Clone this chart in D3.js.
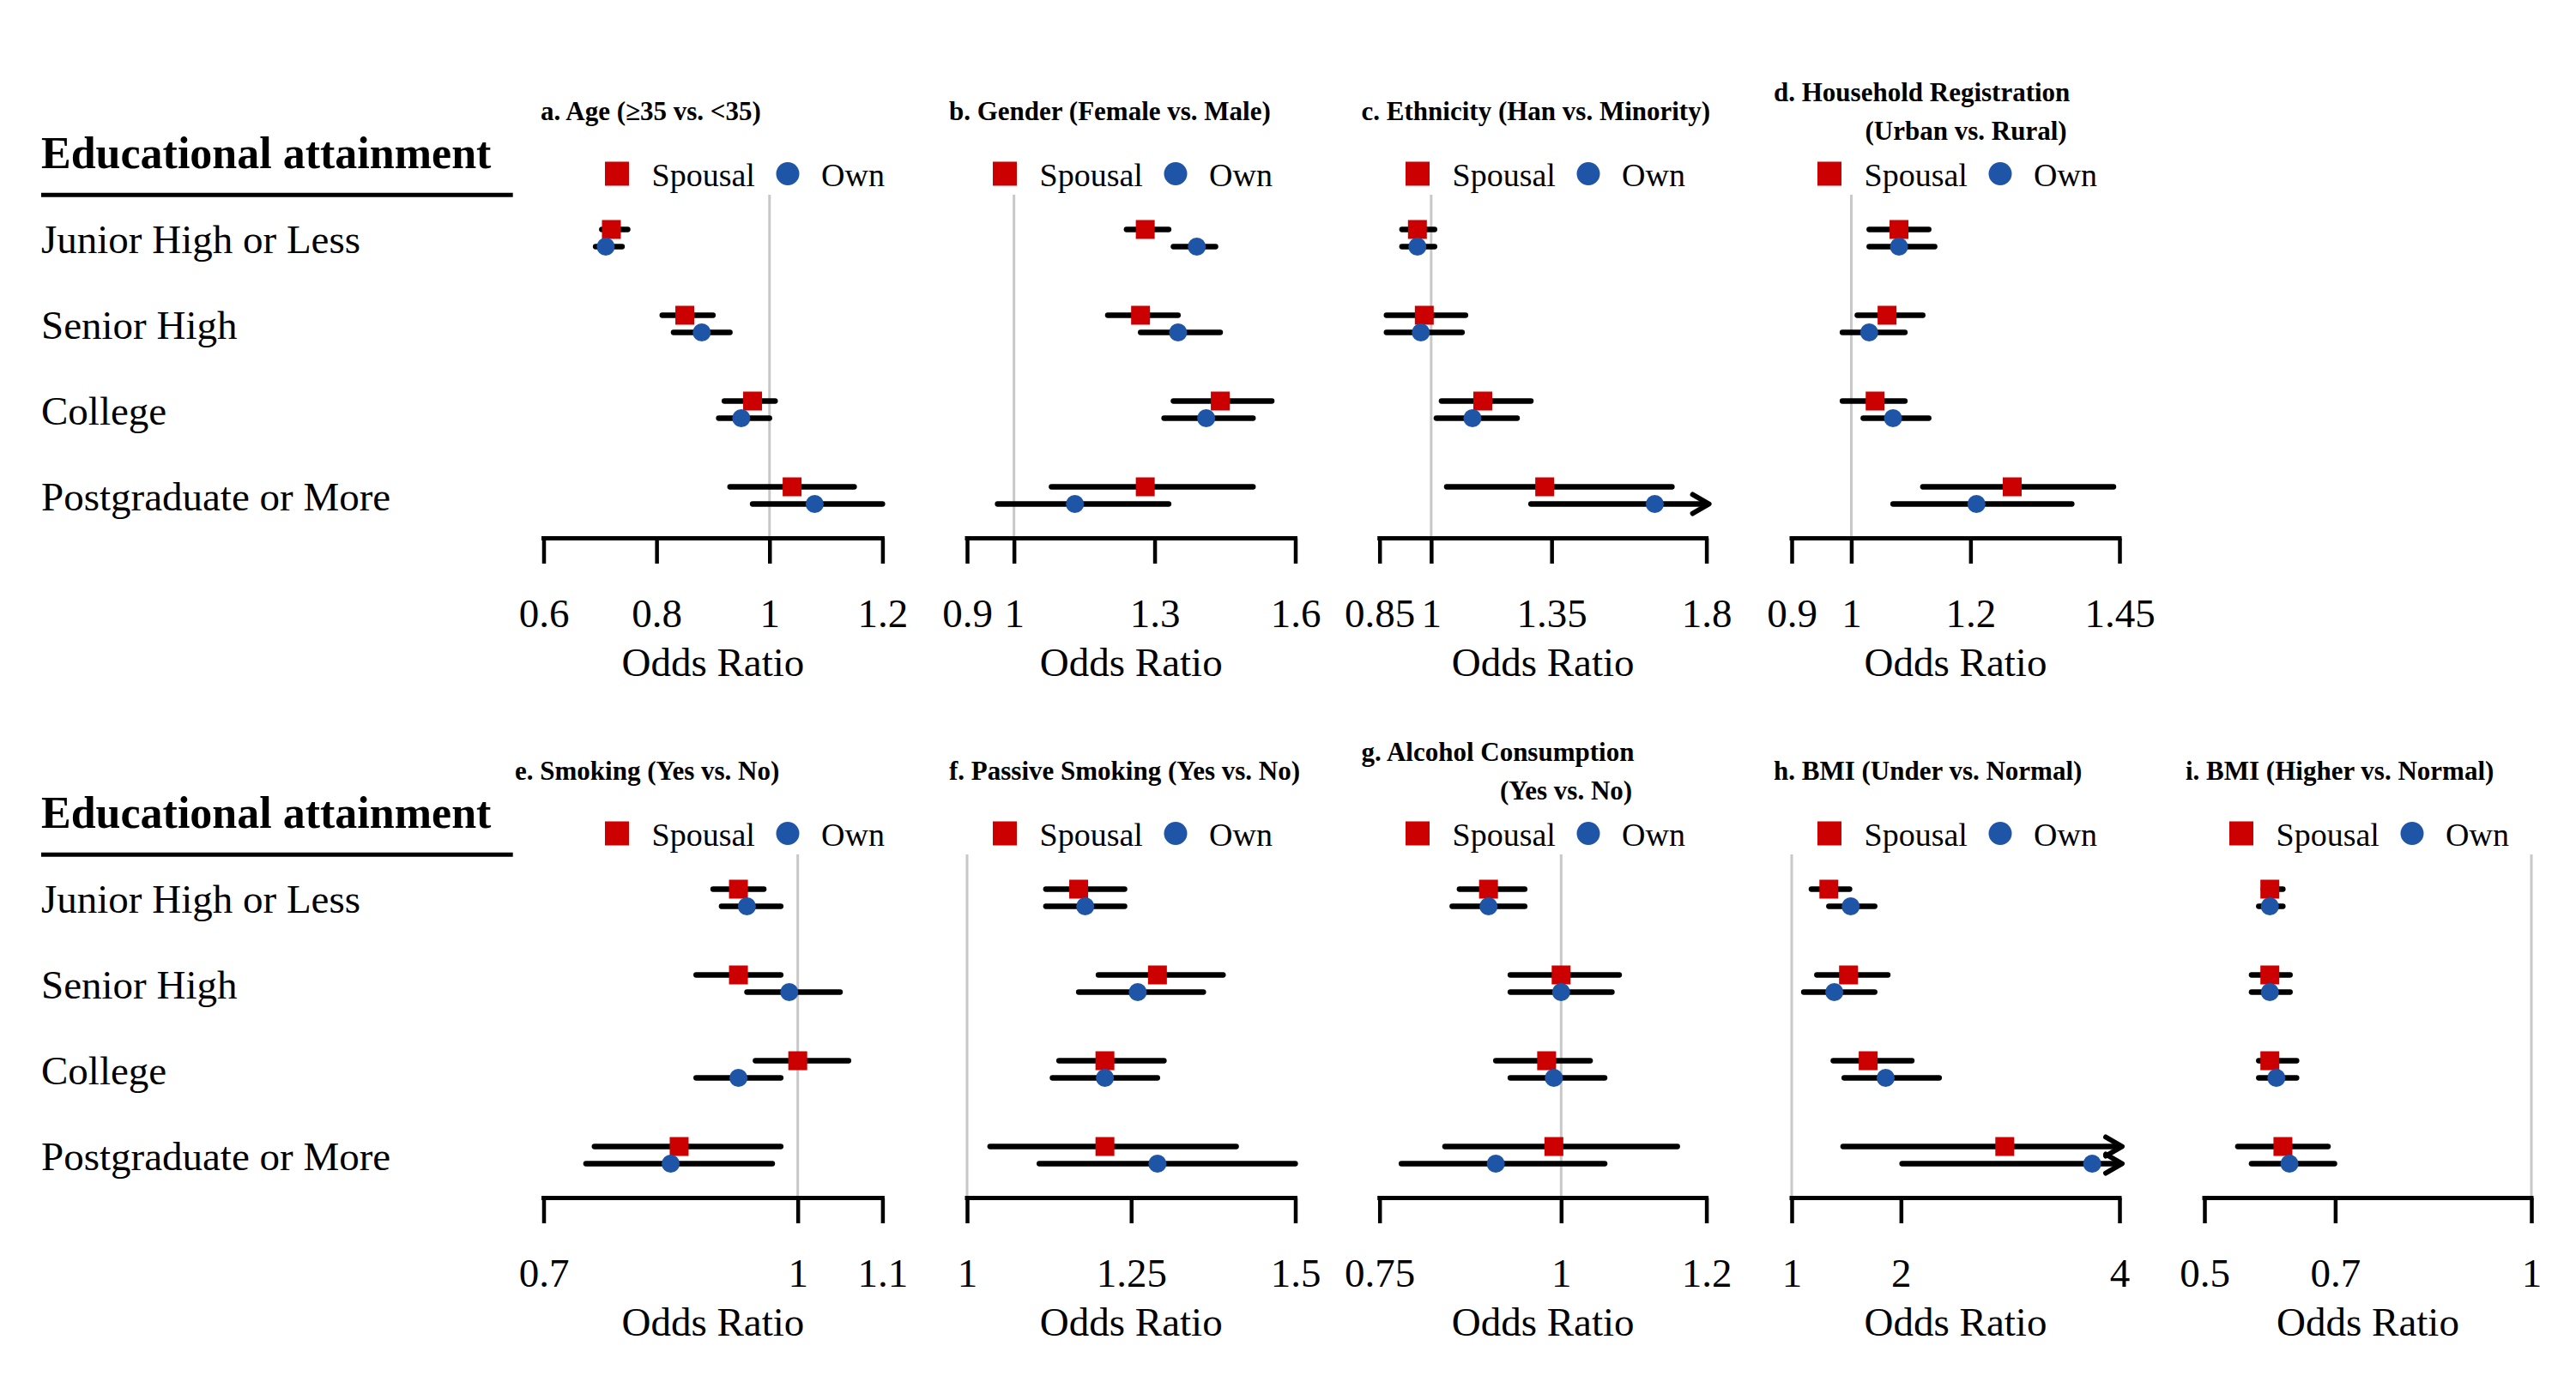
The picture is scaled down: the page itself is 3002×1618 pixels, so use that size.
<!DOCTYPE html>
<html>
<head>
<meta charset="utf-8">
<script src="https://cdn.jsdelivr.net/npm/d3@7"></script>
<style>
  body { margin: 0; background: #fff; }
  text { font-family: "Liberation Serif", "Times New Roman", serif; fill: #000; }
</style>
</head>
<body>
<script>
// education levels (rows)
const categories = ["Junior High or Less", "Senior High", "College", "Postgraduate or More"];

// panel titles (second line where the original wraps)
const titles = [
  ["a. Age (\u226535 vs. <35)"],
  ["b. Gender (Female vs. Male)"],
  ["c. Ethnicity (Han vs. Minority)"],
  ["d. Household Registration", "(Urban vs. Rural)"],
  ["e. Smoking (Yes vs. No)"],
  ["f. Passive Smoking (Yes vs. No)"],
  ["g. Alcohol Consumption", "(Yes vs. No)"],
  ["h. BMI (Under vs. Normal)"],
  ["i. BMI (Higher vs. Normal)"]
];

// axis ranges and tick labels
const domains = [[0.6, 1.2], [0.9, 1.6], [0.85, 1.8], [0.9, 1.45], [0.7, 1.1], [1, 1.5], [0.75, 1.2], [1, 4], [0.5, 1]];
const tickValues = [
  [0.6, 0.8, 1, 1.2], [0.9, 1, 1.3, 1.6], [0.85, 1, 1.35, 1.8], [0.9, 1, 1.2, 1.45],
  [0.7, 1, 1.1], [1, 1.25, 1.5], [0.75, 1, 1.2], [1, 2, 4], [0.5, 0.7, 1]
];

// spousal education: odds ratio and 95% CI (null = beyond axis, drawn as arrow)
const spousalOR = [
  [0.72, 0.85, 0.97, 1.04], [1.28, 1.27, 1.44, 1.28], [0.96, 0.98, 1.15, 1.33], [1.08, 1.06, 1.04, 1.27],
  [0.93, 0.93, 1.00, 0.86], [1.17, 1.29, 1.21, 1.21], [0.90, 1.00, 0.98, 0.99], [1.34, 1.52, 1.70, 2.95],
  [0.60, 0.60, 0.60, 0.62]
];
const spousalLo = [
  [0.703, 0.81, 0.92, 0.93], [1.24, 1.20, 1.34, 1.08], [0.915, 0.87, 1.03, 1.045], [1.03, 1.01, 0.985, 1.12],
  [0.90, 0.88, 0.95, 0.76], [1.12, 1.20, 1.14, 1.035], [0.86, 0.93, 0.91, 0.84], [1.18, 1.23, 1.38, 1.47],
  [0.59, 0.572, 0.583, 0.551]
];
const spousalHi = [
  [0.749, 0.90, 1.01, 1.15], [1.33, 1.35, 1.55, 1.51], [1.01, 1.10, 1.29, 1.70], [1.13, 1.12, 1.09, 1.44],
  [0.96, 0.98, 1.06, 0.98], [1.24, 1.39, 1.30, 1.41], [0.95, 1.08, 1.04, 1.16], [1.53, 1.88, 2.10, null],
  [0.62, 0.631, 0.641, 0.689]
];

// own education: odds ratio and 95% CI
const ownOR = [
  [0.71, 0.88, 0.95, 1.08], [1.39, 1.35, 1.41, 1.13], [0.96, 0.97, 1.12, 1.65], [1.08, 1.03, 1.07, 1.21],
  [0.94, 0.99, 0.93, 0.85], [1.18, 1.26, 1.21, 1.29], [0.90, 1.00, 0.99, 0.91], [1.54, 1.39, 1.86, 3.75],
  [0.60, 0.60, 0.61, 0.63]
];
const ownLo = [
  [0.692, 0.83, 0.91, 0.97], [1.34, 1.27, 1.32, 0.965], [0.915, 0.87, 1.015, 1.29], [1.03, 0.985, 1.02, 1.07],
  [0.91, 0.94, 0.88, 0.75], [1.12, 1.17, 1.13, 1.11], [0.85, 0.93, 0.93, 0.78], [1.34, 1.11, 1.48, 2.01],
  [0.583, 0.572, 0.583, 0.572]
];
const ownHi = [
  [0.739, 0.93, 1.00, 1.20], [1.43, 1.44, 1.51, 1.33], [1.01, 1.09, 1.25, null], [1.14, 1.09, 1.13, 1.37],
  [0.98, 1.05, 0.98, 0.97], [1.24, 1.36, 1.29, 1.50], [0.95, 1.07, 1.06, 1.06], [1.76, 1.76, 2.35, null],
  [0.62, 0.631, 0.641, 0.699]
];

// ---- layout ----
const W = 3002, H = 1618;
const colLeft = [633.5, 1127, 1607.7, 2088, 2569];
const colRight = [1028.4, 1509.5, 1988.6, 2470, 2950];
const rowOffset = [0, 769];
const panelPos = [[0, 0], [0, 1], [0, 2], [0, 3], [1, 0], [1, 1], [1, 2], [1, 3], [1, 4]];
const titleX = [630, 1106, 1586.6, 2067, 600, 1106, 1586.6, 2067, 2547];
const title2X = { 3: 2173.5, 6: 1748 };
const legendX = [719, 1171, 1652, 2132, 719, 1171, 1652, 2132, 2612];
const red = "#cc0000", blue = "#1f55a7";

const svg = d3.select("body").append("svg")
  .attr("width", W)
  .attr("height", H)
  .style("display", "block");

svg.append("rect").attr("width", W).attr("height", H).attr("fill", "#fff");

const yRow = d3.scalePoint().domain(categories).range([277.5, 577.5]);

// left hand labels, once per row of panels
rowOffset.forEach(off => {
  const g = svg.append("g").attr("transform", `translate(0,${off})`);
  g.append("text")
    .attr("x", 48).attr("y", 195.6)
    .attr("font-size", 52).attr("font-weight", "bold")
    .text("Educational attainment");
  g.append("line")
    .attr("x1", 48).attr("x2", 597.7)
    .attr("y1", 227.3).attr("y2", 227.3)
    .attr("stroke", "#000").attr("stroke-width", 5);
  g.selectAll(".rowlab").data(categories).join("text")
    .attr("class", "rowlab")
    .attr("x", 48).attr("y", d => yRow(d) + 17)
    .attr("font-size", 47)
    .text(d => d);
});

const arrow = (g, x, y) => {
  g.append("path")
    .attr("d", `M${x - 19},${y - 11}L${x},${y}L${x - 19},${y + 11}`)
    .attr("fill", "none").attr("stroke", "#000")
    .attr("stroke-width", 6).attr("stroke-linecap", "round").attr("stroke-linejoin", "round");
};

titles.forEach((t, p) => {
  const [r, c] = panelPos[p];
  const g = svg.append("g").attr("transform", `translate(0,${rowOffset[r]})`);
  const x = d3.scaleLinear().domain(domains[p]).range([colLeft[c], colRight[c]]);

  // title
  if (t.length === 1) {
    g.append("text").attr("x", titleX[p]).attr("y", 140.4)
      .attr("font-size", 31).attr("font-weight", "bold").text(t[0]);
  } else {
    g.append("text").attr("x", titleX[p]).attr("y", 117.8)
      .attr("font-size", 31).attr("font-weight", "bold").text(t[0]);
    g.append("text").attr("x", title2X[p]).attr("y", 162.6)
      .attr("font-size", 31).attr("font-weight", "bold").text(t[1]);
  }

  // legend
  const lx = legendX[p];
  g.append("rect").attr("x", lx - 14).attr("y", 188.5).attr("width", 28).attr("height", 28).attr("fill", red);
  g.append("text").attr("x", lx + 40.5).attr("y", 216.5).attr("font-size", 38).text("Spousal");
  g.append("circle").attr("cx", lx + 199).attr("cy", 202.5).attr("r", 13.5).attr("fill", blue);
  g.append("text").attr("x", lx + 238).attr("y", 216.5).attr("font-size", 38).text("Own");

  // reference line at OR = 1
  g.append("line")
    .attr("x1", x(1)).attr("x2", x(1))
    .attr("y1", 227).attr("y2", 627.5)
    .attr("stroke", "#c8c8c8").attr("stroke-width", 3);

  // axis
  const axis = d3.axisBottom(x).tickValues(tickValues[p]).tickSize(29.5).tickPadding(0).tickFormat(d => String(d));
  const ax = g.append("g").attr("transform", "translate(0,627.5)").call(axis);
  ax.select(".domain").attr("d", `M${colLeft[c]},0H${colRight[c]}`).attr("stroke-width", 5).attr("stroke-linecap", "square");
  ax.selectAll(".tick line").attr("stroke-width", 4.5);
  ax.selectAll(".tick text")
    .attr("y", 103.5).attr("dy", null)
    .attr("font-size", 47)
    .style("font-family", "'Liberation Serif', 'Times New Roman', serif")
    .attr("fill", "#000");
  g.append("text")
    .attr("x", (colLeft[c] + colRight[c]) / 2).attr("y", 788)
    .attr("text-anchor", "middle").attr("font-size", 47)
    .text("Odds Ratio");

  // confidence intervals and point estimates
  const xmax = domains[p][1];
  const series = [
    { or: spousalOR[p], lo: spousalLo[p], hi: spousalHi[p], dy: -10, shape: "square" },
    { or: ownOR[p], lo: ownLo[p], hi: ownHi[p], dy: 10, shape: "circle" }
  ];
  series.forEach(s => {
    categories.forEach((cat, i) => {
      const y = yRow(cat) + s.dy;
      const over = s.hi[i] === null;
      const x2 = over ? x(xmax) : x(s.hi[i]);
      g.append("line")
        .attr("x1", x(s.lo[i])).attr("x2", x2)
        .attr("y1", y).attr("y2", y)
        .attr("stroke", "#000").attr("stroke-width", 6.3).attr("stroke-linecap", "round");
      if (over) arrow(g, x(xmax) + 3, y);
    });
  });
  series.forEach(s => {
    categories.forEach((cat, i) => {
      const y = yRow(cat) + s.dy;
      if (s.shape === "square") {
        g.append("rect")
          .attr("x", x(s.or[i]) - 11).attr("y", y - 11)
          .attr("width", 22).attr("height", 22).attr("fill", red);
      } else {
        g.append("circle")
          .attr("cx", x(s.or[i])).attr("cy", y).attr("r", 10.5).attr("fill", blue);
      }
    });
  });
});
</script>
</body>
</html>
